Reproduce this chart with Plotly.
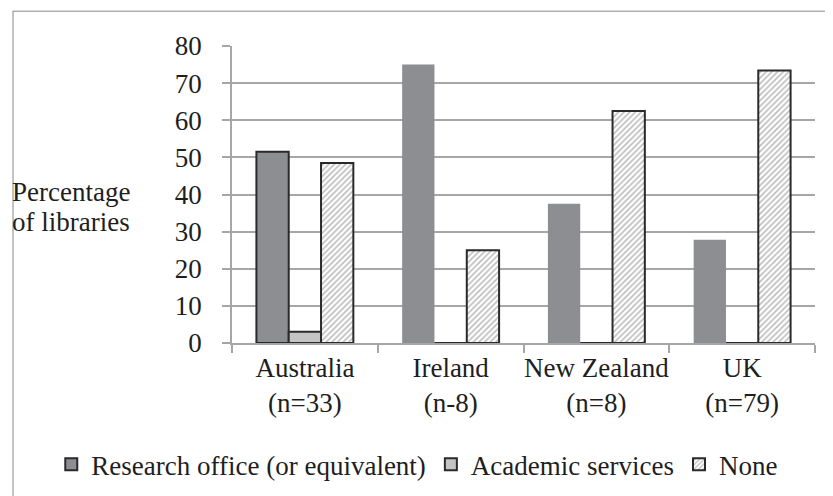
import plotly.graph_objects as go

categories = ["Australia<br>(n=33)", "Ireland<br>(n-8)", "New Zealand<br>(n=8)", "UK<br>(n=79)"]
research = [51.5, 75.0, 37.5, 27.8]
academic = [3.0, 0.0, 0.0, 0.0]
none_vals = [48.5, 25.0, 62.5, 73.4]
y_ticks = [0, 10, 20, 30, 40, 50, 60, 70, 80]

FONT = "Liberation Serif, Times New Roman, serif"
GRID = "#a6a6a6"
TXT = "#1e1e1e"
FS = 27

fig = go.Figure()
fig.add_trace(go.Bar(
    x=categories, y=research, name="Research office (or equivalent)",
    marker=dict(color="#8d8e91", line=dict(color="#2a2a2a", width=[2, 0, 0, 0])),
))
fig.add_trace(go.Bar(
    x=categories, y=academic, name="Academic services",
    marker=dict(color="#c4c4c4", line=dict(color="#2a2a2a", width=2)),
))
fig.add_trace(go.Bar(
    x=categories, y=none_vals, name="None",
    marker=dict(color="white", line=dict(color="#2a2a2a", width=2),
                pattern=dict(shape="/", fgcolor="#7a7a7a", bgcolor="white", size=4, solidity=0.4)),
))

fig.update_layout(
    width=833, height=496,
    margin=dict(l=224, r=26, t=38, b=161, autoexpand=False),
    paper_bgcolor="white", plot_bgcolor="white",
    barmode="group", bargap=0.335, bargroupgap=0,
    font=dict(family=FONT, size=FS, color=TXT),
    showlegend=True,
    legend=dict(orientation="h", x=-0.31, y=-0.41, xanchor="left", yanchor="middle",
                font=dict(family=FONT, size=FS, color=TXT),
                itemwidth=30, tracegroupgap=0, bgcolor="rgba(0,0,0,0)"),
    xaxis=dict(showgrid=False, showline=True, linecolor=GRID, linewidth=1.5,
               ticks="outside", tickson="boundaries", ticklen=8, tickcolor=GRID, tickwidth=1.5,
               tickangle=0, automargin=False,
               tickfont=dict(family=FONT, size=FS, color=TXT)),
    yaxis=dict(range=[0, 80], tickvals=y_ticks, showgrid=True, gridcolor=GRID, gridwidth=1.5,
               showline=True, linecolor=GRID, linewidth=1.5, zeroline=False,
               ticks="outside", ticklen=8, tickcolor=GRID, tickwidth=1.5, automargin=False,
               tickfont=dict(family=FONT, size=FS, color=TXT), ticklabelstandoff=15),
    annotations=[
        dict(text="Percentage", xref="paper", yref="paper", x=-0.38, y=(335 - 184) / 297,
             xanchor="left", yanchor="middle", showarrow=False,
             font=dict(family=FONT, size=FS, color=TXT)),
        dict(text="of libraries", xref="paper", yref="paper", x=-0.38, y=(335 - 214) / 297,
             xanchor="left", yanchor="middle", showarrow=False,
             font=dict(family=FONT, size=FS, color=TXT)),
    ],
    shapes=[dict(type="rect", xref="paper", yref="paper", x0=-0.3756, x1=1.039, y0=-0.527, y1=1.117,
                 line=dict(color="#b0b0b0", width=1.5), layer="below")],
)

fig.write_html("out.html")
